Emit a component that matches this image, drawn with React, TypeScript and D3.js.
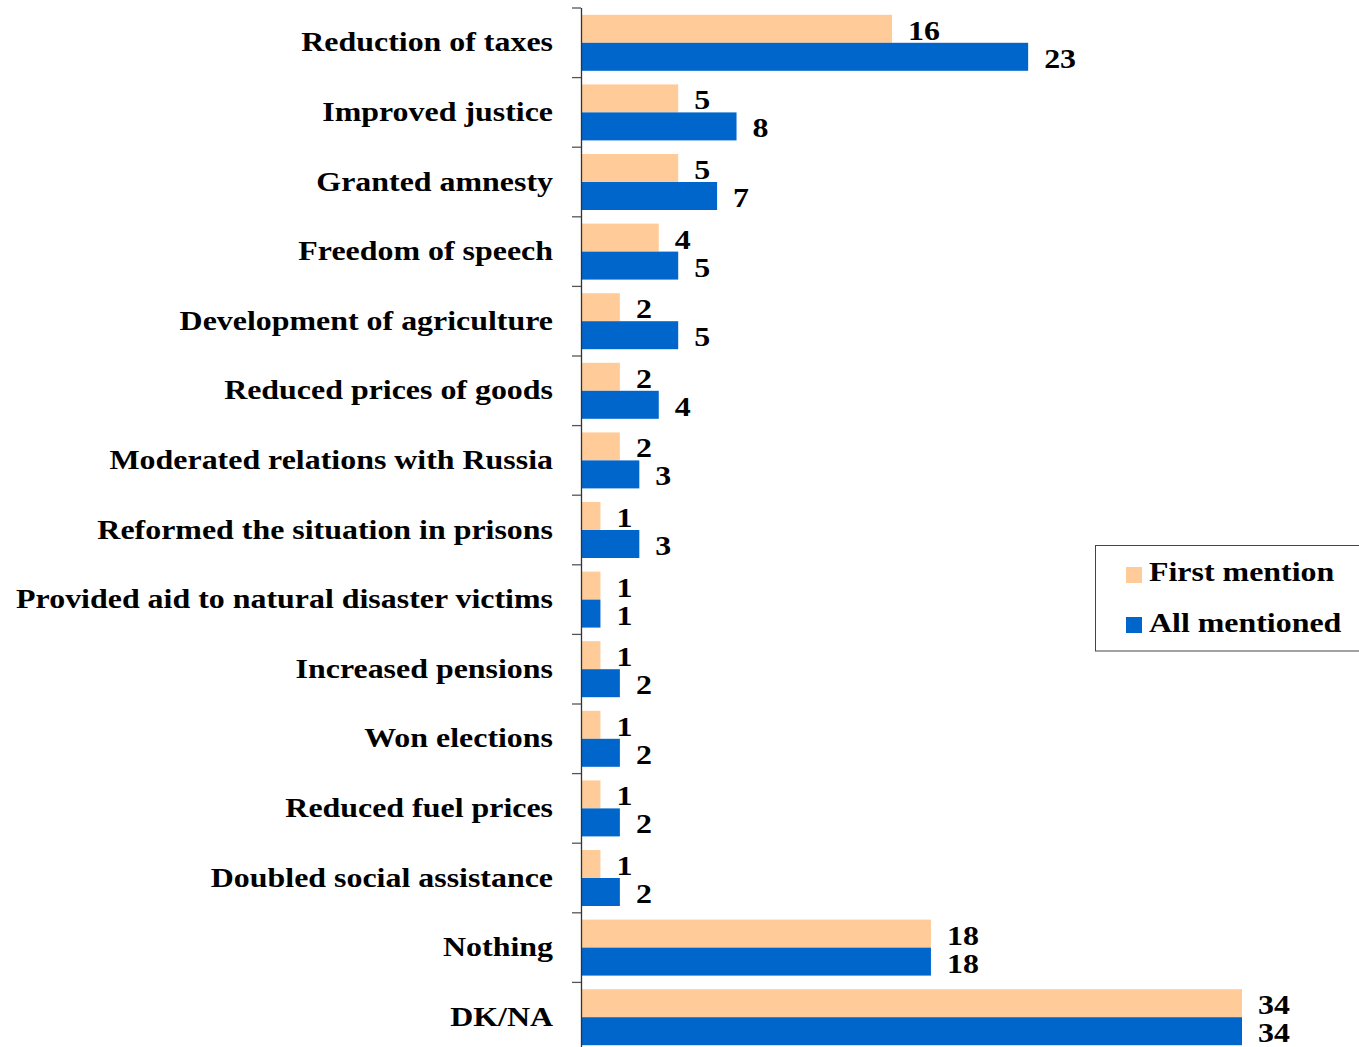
import React from "react";
import * as d3 from "d3";

const categories = [
  "Reduction of taxes",
  "Improved justice",
  "Granted amnesty",
  "Freedom of speech",
  "Development of agriculture",
  "Reduced prices of goods",
  "Moderated relations with Russia",
  "Reformed the situation in prisons",
  "Provided aid to natural disaster victims",
  "Increased pensions",
  "Won elections",
  "Reduced fuel prices",
  "Doubled social assistance",
  "Nothing",
  "DK/NA",
];
const firstMention = [16, 5, 5, 4, 2, 2, 2, 1, 1, 1, 1, 1, 1, 18, 34];
const allMentioned = [23, 8, 7, 5, 5, 4, 3, 3, 1, 2, 2, 2, 2, 18, 34];
const seriesNames = ["First mention", "All mentioned"];
const seriesColors = ["#FFCC99", "#0066CC"];

const W = 1359;
const H = 1047;
const FONT = "'Liberation Serif', 'Times New Roman', serif";
const SX = 1.14;

export default function App() {
  const x = d3.scaleLinear().domain([0, 34]).range([581, 1242]);
  const y = d3.scaleBand().domain(categories).range([8, 1052]).paddingInner(0).paddingOuter(0);
  const inner = d3
    .scaleBand()
    .domain(seriesNames)
    .range([0, y.bandwidth()])
    .paddingInner(0)
    .paddingOuter(0.243);
  const series = [firstMention, allMentioned];
  const boundaries = categories.map((c) => y(c)!).concat([y.range()[1]]);

  return (
    <svg
      width={W}
      height={H}
      style={{ position: "absolute", left: 0, top: 0, display: "block", background: "#fff" }}
      fontFamily={FONT}
      fontWeight="bold"
    >
      {categories.map((c, i) => (
        <g key={c}>
          {series.map((vals, s) => (
            <rect
              key={s}
              x={x(0)}
              y={y(c)! + inner(seriesNames[s])!}
              width={x(vals[i]) - x(0)}
              height={inner.bandwidth()}
              fill={seriesColors[s]}
            />
          ))}
          {series.map((vals, s) => (
            <g
              key={"l" + s}
              transform={`translate(${x(vals[i]) + 16},${y(c)! + inner(seriesNames[s])! + inner.bandwidth() / 2 + 11}) scale(${SX},1)`}
            >
              <text fontSize={28} fill="#000">
                {vals[i]}
              </text>
            </g>
          ))}
          <g transform={`translate(553,${y(c)! + y.bandwidth() / 2 + 8.5}) scale(${SX},1)`}>
            <text fontSize={28} textAnchor="end" fill="#000">
              {c}
            </text>
          </g>
        </g>
      ))}
      <line x1={581.5} x2={581.5} y1={8} y2={1052} stroke="#333" strokeWidth={1.3} />
      {boundaries.map((b, i) => (
        <line key={i} x1={572} x2={581} y1={b} y2={b} stroke="#555" strokeWidth={1.3} />
      ))}
      <rect x={1095.5} y={545.5} width={280} height={105.5} fill="#fff" stroke="#444" strokeWidth={1} />
      {seriesNames.map((n, s) => (
        <g key={n}>
          <rect x={1126} y={567 + s * 50} width={16} height={16} fill={seriesColors[s]} />
          <g transform={`translate(1149,${581 + s * 51}) scale(${SX},1)`}>
            <text fontSize={28} fill="#000">
              {n}
            </text>
          </g>
        </g>
      ))}
    </svg>
  );
}
